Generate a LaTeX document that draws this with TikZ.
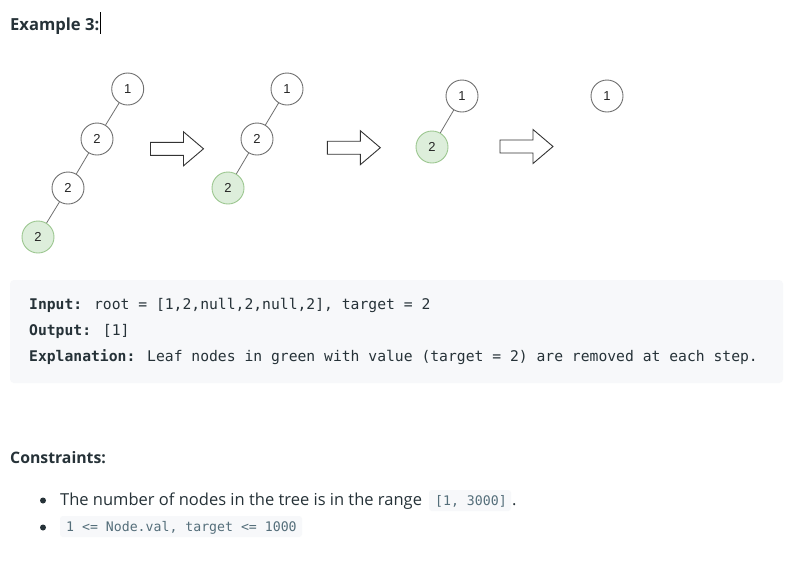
\documentclass[tikz,border=0pt]{standalone}
\usepackage{fontspec}
\setmainfont{Open Sans}
\newfontfamily\monof{DejaVu Sans Mono}
\newfontfamily\nodef{Liberation Sans}
\definecolor{txt}{HTML}{263238}
\definecolor{codebg}{HTML}{F7F8FA}
\definecolor{codetxt}{HTML}{546E7A}
\definecolor{gfill}{HTML}{DDEEDB}
\definecolor{gdraw}{HTML}{9CC790}
\definecolor{ndraw}{HTML}{707070}
\begin{document}
\begin{tikzpicture}[x=1pt,y=-1pt,
  tnode/.style={circle,draw=ndraw,line width=0.9pt,fill=white,minimum size=32pt,inner sep=0pt,font=\nodef\fontsize{13}{14}\selectfont,text=black!85},
  gnode/.style={tnode,draw=gdraw,fill=gfill},
  edge/.style={draw=ndraw,line width=0.8pt},
  arrowline/.style={draw=black!80,line width=0.9pt,fill=white},
  lbl/.style={anchor=base west,inner sep=0pt,text=txt},
  mono/.style={lbl,font=\monof\fontsize{14.7}{16}\selectfont},
  icode/.style={lbl,text=codetxt,font=\monof\fontsize{13.2}{14}\selectfont},
  blockarrow/.pic={\draw[arrowline] (0,-6.5) -- (33,-6.5) -- (33,-17) -- (53,0) -- (33,17) -- (33,6.5) -- (0,6.5) -- cycle;}
]
\useasboundingbox (0,0) rectangle (791,563);
\fill[white] (0,0) rectangle (791,563);

% title
\node[lbl,font=\bfseries\fontsize{16.6}{20}\selectfont] (title) at (10,30) {Example 3:};
\draw[black,line width=0.7pt] (100.2,12) -- (100.2,34);

% tree 1
\node[tnode] (a1) at (127.7,89) {1};
\node[tnode] (a2) at (97,139) {2};
\node[tnode] (a3) at (68,188) {2};
\node[gnode] (a4) at (38,237) {2};
\draw[edge] (a1) -- (a2);
\draw[edge] (a2) -- (a3);
\draw[edge] (a3) -- (a4);

\pic at (150.5,148.8) {blockarrow};

% tree 2
\node[tnode] (b1) at (287,89) {1};
\node[tnode] (b2) at (257,139) {2};
\node[gnode] (b3) at (228,188) {2};
\draw[edge] (b1) -- (b2);
\draw[edge] (b2) -- (b3);

\pic at (327.3,147.7) {blockarrow};

% tree 3
\node[tnode] (c1) at (462,96) {1};
\node[gnode] (c2) at (432,147) {2};
\draw[edge] (c1) -- (c2);

\pic at (500,146.5) {blockarrow};

% tree 4
\node[tnode] (d1) at (607,96) {1};

% code box
\fill[codebg,rounded corners=4pt] (10,280) rectangle (783,383);
\node[mono] (in) at (29,309.3) {\textbf{Input:} root = [1,2,null,2,null,2], target = 2};
\node[mono] (out) at (29,335.5) {\textbf{Output:} [1]};
\node[mono] (expl) at (29,361.5) {\textbf{Explanation:} Leaf nodes in green with value (target = 2) are removed at each step.};

% constraints
\node[lbl,font=\bfseries\fontsize{15.8}{20}\selectfont] (cons) at (10,463) {Constraints:};
\fill[txt] (43,500.5) circle (3pt);
\fill[txt] (43,527.5) circle (3pt);
\node[lbl,font=\fontsize{16.5}{20}\selectfont] (b1t) at (60,505) {The number of nodes in the tree is in the range};
\fill[codebg,rounded corners=3pt] (429,490) rectangle (511,511);
\node[icode] (r1) at (435,505) {[1, 3000]};
\node[lbl,font=\fontsize{16.5}{20}\selectfont] (dot) at (512,505) {.};
\fill[codebg,rounded corners=3pt] (60,516) rectangle (302,537);
\node[icode] (r2) at (66,531.7) {1 <= Node.val, target <= 1000};
\end{tikzpicture}
\end{document}
